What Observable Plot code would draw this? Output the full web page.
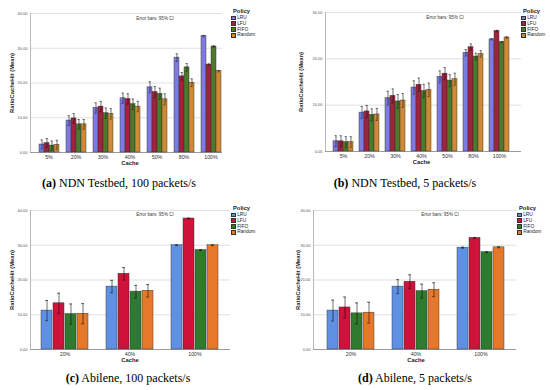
<!DOCTYPE html>
<html><head><meta charset="utf-8">
<script src="https://cdn.jsdelivr.net/npm/d3@7"></script>
<script src="https://cdn.jsdelivr.net/npm/@observablehq/plot@0.6"></script>
<style>
body{margin:0;background:#fff;width:550px;height:390px;position:relative;overflow:hidden;font-family:"Liberation Sans",Arial,sans-serif;}
.panel{position:absolute;width:275px;height:195px;}
.layer{position:absolute;left:0;top:0;}
.note{position:absolute;font-size:4.5px;color:#333;transform:translateX(-50%);white-space:nowrap;line-height:5px;}
.legend{position:absolute;font-size:4.8px;color:#222;}
.legend .title{font-weight:bold;font-size:5.8px;line-height:8px;margin-left:2px;}
.legend .item{display:flex;align-items:center;height:5.8px;line-height:5.8px;}
.legend .sw{width:4.6px;height:4.6px;margin-right:1.6px;border:0.4px solid #333;box-sizing:border-box;}
.caption{position:absolute;font-family:"Liberation Serif","Times New Roman",serif;font-size:12px;line-height:12px;color:#000;white-space:nowrap;transform:translateX(-50%);font-weight:normal;}
.caption b{font-weight:bold;}
.caption span{font-weight:normal;}
svg g[aria-label="y-axis label"] text, svg g[aria-label="fx-axis label"] text{font-weight:bold;font-size:5.8px;fill:#222;}
</style></head><body>
<script>
const policies = ["LRU", "LFU", "FIFO", "Random"];
const cacheNDN = ["5%", "20%", "30%", "40%", "50%", "80%", "100%"];
const cacheAbilene = ["20%", "40%", "100%"];
const ticks40 = [0, 10, 20, 30, 40];
const ticks30 = [0, 10, 20, 30];

// (a) NDN Testbed, 100 packets/s
const aLRU = [2.3, 9.2, 12.8, 15.6, 18.75, 27.3, 33.5];
const aLFU = [2.7, 9.8, 13.2, 15.4, 17.4, 21.9, 25.3];
const aFIFO = [2.0, 8.1, 11.3, 13.9, 16.9, 24.5, 30.5];
const aRandom = [2.2, 8.1, 11.1, 13.2, 15.3, 20.1, 23.4];
const aErr = [1.3, 1.4, 1.5, 1.5, 1.6, 1.1, 0.2];

// (b) NDN Testbed, 5 packets/s
const bLRU = [2.2, 8.4, 11.5, 13.8, 16.1, 21.3, 24.2];
const bLFU = [2.2, 8.65, 12.0, 14.4, 16.8, 22.5, 26.0];
const bFIFO = [2.0, 7.9, 10.8, 13.05, 15.3, 20.5, 23.6];
const bRandom = [2.0, 8.0, 11.0, 13.3, 15.6, 21.05, 24.6];
const bErr = [1.2, 1.3, 1.5, 1.45, 1.3, 0.7, 0.15];

// (c) Abilene, 100 packets/s
const cLRU = [11.2, 18.1, 30.0];
const cLFU = [13.3, 21.8, 37.7];
const cFIFO = [10.2, 16.65, 28.6];
const cRandom = [10.3, 16.9, 30.0];
const cErr = [2.9, 1.8, 0.1];

// (d) Abilene, 5 packets/s
const dLRU = [11.2, 18.1, 29.3];
const dLFU = [12.1, 19.5, 32.1];
const dFIFO = [10.4, 16.8, 28.0];
const dRandom = [10.6, 17.2, 29.4];
const dErr = [3.0, 2.0, 0.15];

const colorsNDN = ["#7f7ae2", "#a3213c", "#4b7a2c", "#cf8a36"];
const colorsAbilene = ["#5f90e3", "#cf1239", "#2e7a2e", "#e6782c"];

function rows(cats, series, err) {
  const out = [];
  cats.forEach((c, i) => policies.forEach((p, j) => {
    const v = series[j][i];
    out.push({cache: c, policy: p, value: v, lo: v - err[i], hi: v + err[i]});
  }));
  return out;
}

const H = 175;
const panels = [
  {key:"a", left:0, top:0, cats:cacheNDN, series:[aLRU,aLFU,aFIFO,aRandom], err:aErr, ymax:40, ticks:ticks40,
   bl:30, br:53, tl:35, tr:51, mt:13, zero:152, lo:21, pi:0.05, po:0.37, cap:1.6, colors:colorsNDN,
   note:[155,16], legend:[231,7], cap_xy:[119,177], title:"NDN Testbed, 100 packets/s"},
  {key:"b", left:275, top:0, cats:cacheNDN, series:[bLRU,bLFU,bFIFO,bRandom], err:bErr, ymax:30, ticks:ticks30,
   bl:50, br:29, tl:52, tr:36, mt:12, zero:151, lo:27, pi:0.05, po:0.31, cap:1.6, colors:colorsNDN,
   note:[170,15], legend:[246,7], cap_xy:[130,177], title:"NDN Testbed, 5 packets/s"},
  {key:"c", left:0, top:195, cats:cacheAbilene, series:[cLRU,cLFU,cFIFO,cRandom], err:cErr, ymax:40, ticks:ticks40,
   bl:30, br:45, tl:32, tr:48, mt:15, zero:154, lo:21, pi:0.08, po:0.66, cap:4, colors:colorsAbilene,
   note:[155,17], legend:[231,9], cap_xy:[128,177], title:"Abilene, 100 packets/s"},
  {key:"d", left:275, top:195, cats:cacheAbilene, series:[dLRU,dLFU,dFIFO,dRandom], err:dErr, ymax:40, ticks:ticks40,
   bl:38, br:34, tl:42, tr:36, mt:15, zero:154, lo:18, pi:0.08, po:0.58, cap:4, colors:colorsAbilene,
   note:[165,17], legend:[242,9], cap_xy:[140,177], title:"Abilene, 5 packets/s"}
];

for (const p of panels) {
  const div = document.createElement("div");
  div.className = "panel";
  div.style.left = p.left + "px";
  div.style.top = p.top + "px";
  document.body.appendChild(div);

  const base = Plot.plot({
    width: 275, height: H,
    marginLeft: p.bl, marginRight: p.br, marginTop: p.mt, marginBottom: H - p.zero,
    style: {fontSize: "4px", fontFamily: "Liberation Sans, Arial, sans-serif", background: "transparent", color: "#555"},
    x: {domain: [0, 1], axis: null},
    y: {domain: [0, p.ymax], axis: null},
    marks: [
      Plot.gridY(p.ticks, {stroke: "#d2d2d2", strokeOpacity: 1, strokeWidth: 0.7}),
      Plot.axisY(p.ticks, {tickSize: 0, tickPadding: 3, tickFormat: d3.format(".2f"),
        label: "RatioCacheHit (Mean)", labelAnchor: "center", labelOffset: p.lo, labelArrow: "none"}),
      Plot.ruleX([0], {stroke: "#9a9a9a", strokeWidth: 0.7}),
      Plot.ruleY([0], {stroke: "#8a8a8a", strokeWidth: 0.8})
    ]
  });
  base.classList.add("layer");
  div.appendChild(base);

  const data = rows(p.cats, p.series, p.err);
  const top = Plot.plot({
    width: 275, height: H,
    marginLeft: p.tl, marginRight: p.tr, marginTop: p.mt, marginBottom: H - p.zero,
    style: {fontSize: "5.3px", fontFamily: "Liberation Sans, Arial, sans-serif", background: "transparent", color: "#333"},
    fx: {domain: p.cats, padding: 0, label: "Cache", labelAnchor: "center", labelOffset: 12, tickSize: 0, tickPadding: 2.5},
    x: {domain: policies, paddingInner: p.pi, paddingOuter: p.po, axis: null},
    y: {domain: [0, p.ymax], axis: null},
    color: {domain: policies, range: p.colors},
    marks: [
      Plot.barY(data, {fx: "cache", x: "policy", y: "value", fill: "policy", stroke: "#333", strokeWidth: 0.45}),
      Plot.ruleX(data, {fx: "cache", x: "policy", y1: "lo", y2: "hi", stroke: "#111", strokeWidth: 0.6}),
      Plot.tickY(data, {fx: "cache", x: "policy", y: "lo", stroke: "#111", strokeWidth: 0.6, inset: p.cap}),
      Plot.tickY(data, {fx: "cache", x: "policy", y: "hi", stroke: "#111", strokeWidth: 0.6, inset: p.cap})
    ]
  });
  top.classList.add("layer");
  div.appendChild(top);

  const note = document.createElement("div");
  note.className = "note";
  note.style.left = p.note[0] + "px";
  note.style.top = p.note[1] + "px";
  note.textContent = "Error bars: 95% CI";
  div.appendChild(note);

  const leg = document.createElement("div");
  leg.className = "legend";
  leg.style.left = p.legend[0] + "px";
  leg.style.top = p.legend[1] + "px";
  leg.innerHTML = `<div class="title">Policy</div>` + policies.map((name, i) =>
    `<div class="item"><span class="sw" style="background:${p.colors[i]}"></span>${name}</div>`).join("");
  div.appendChild(leg);

  const cap = document.createElement("div");
  cap.className = "caption";
  cap.style.left = p.cap_xy[0] + "px";
  cap.style.top = p.cap_xy[1] + "px";
  cap.innerHTML = `<b>(${p.key})</b> <span>${p.title}</span>`;
  div.appendChild(cap);
}
</script>
</body></html>
